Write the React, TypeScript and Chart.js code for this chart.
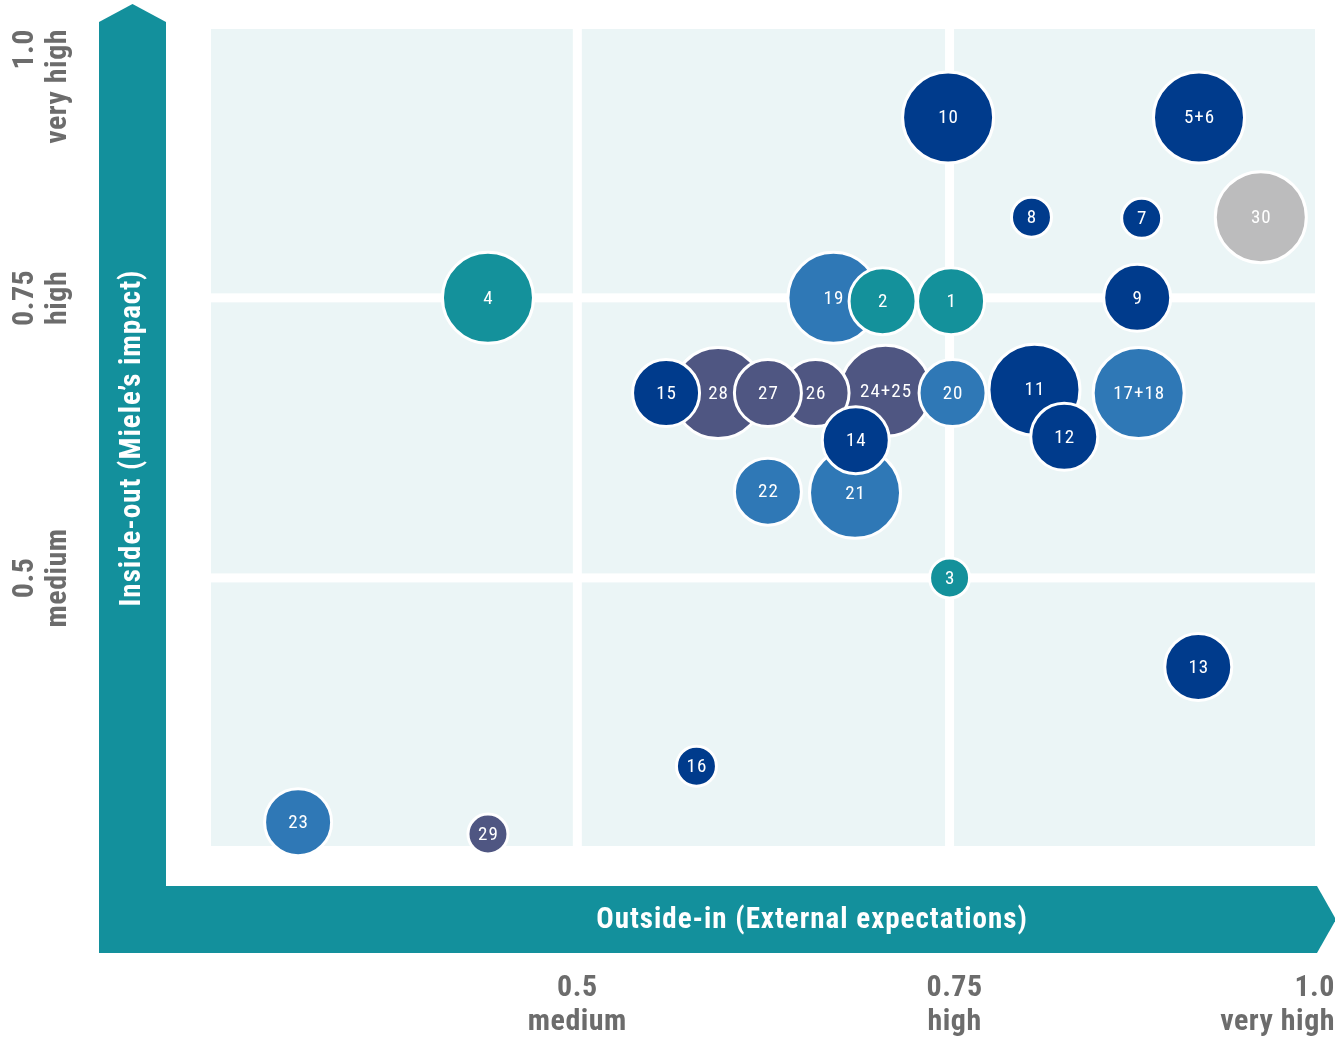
import React, { useEffect, useRef } from "react";
import { Chart, registerables } from "chart.js";

Chart.register(...registerables);

// ---- data (listed in drawing order: later items are drawn on top) ----
const bubbleLabels = ["28", "24+25", "26", "27", "15", "19", "2", "1", "21", "14", "20", "11", "12", "17+18", "4", "10", "5+6", "8", "7", "30", "9", "22", "3", "13", "16", "23", "29"];
const outsideIn = [0.5945, 0.707, 0.66, 0.628, 0.5596, 0.672, 0.705, 0.751, 0.6865, 0.687, 0.752, 0.807, 0.827, 0.877, 0.44, 0.749, 0.9175, 0.805, 0.879, 0.959, 0.876, 0.628, 0.75, 0.917, 0.58, 0.3125, 0.44];
const insideOut = [0.665, 0.667, 0.665, 0.665, 0.665, 0.75, 0.747, 0.747, 0.576, 0.623, 0.665, 0.668, 0.626, 0.665, 0.75, 0.911, 0.911, 0.822, 0.821, 0.822, 0.75, 0.577, 0.5, 0.4205, 0.332, 0.282, 0.2714];
const bubbleSize = [45.5, 45.5, 33.5, 33.5, 33.5, 45.5, 33.5, 33.5, 45.5, 33.5, 33.5, 45.5, 33.5, 45.5, 45.5, 45.5, 45.5, 20, 20, 45.5, 33.5, 33.5, 20, 33.5, 20, 33.5, 20];
const bubbleGroup = ["slate", "slate", "slate", "slate", "navy", "blue", "teal", "teal", "blue", "navy", "blue", "navy", "navy", "blue", "teal", "navy", "navy", "navy", "navy", "grey", "navy", "blue", "teal", "navy", "navy", "blue", "slate"];

const tickValues = [0.5, 0.75, 1.0];
const tickNumbers = ["0.5", "0.75", "1.0"];
const tickWords = ["medium", "high", "very high"];

const xTitle = "Outside-in (External expectations)";
const yTitle = "Inside-out (Miele\u2019s impact)";

// ---- styles ----
const palette: Record<string, string> = {
  navy: "#003b8c",
  blue: "#2f78b6",
  teal: "#14919b",
  slate: "#4f5682",
  grey: "#bcbcbd",
};
const ARROW = "#13909c";
const CELL = "#ebf5f6";
const TICK = "#6c6c6c";
const FONT = "'Roboto Condensed', 'Liberation Sans Narrow', 'DejaVu Sans Condensed', 'Arial Narrow', Roboto, sans-serif";

const decorPlugin = {
  id: "decor",
  beforeDatasetsDraw(chart: any) {
    const { ctx, chartArea: a, scales } = chart;
    const xs = scales.x;
    const ys = scales.y;
    const W = chart.width;
    ctx.save();
    // plot background cells
    ctx.fillStyle = CELL;
    ctx.fillRect(a.left, a.top, a.right - a.left, a.bottom - a.top);
    ctx.fillStyle = "#ffffff";
    [0.5, 0.75].forEach((v) => {
      const px = xs.getPixelForValue(v);
      ctx.fillRect(px - 4.5, a.top, 9, a.bottom - a.top);
      const py = ys.getPixelForValue(v);
      ctx.fillRect(a.left, py - 4.5, a.right - a.left, 9);
    });

    // arrows
    ctx.fillStyle = ARROW;
    ctx.beginPath();
    ctx.moveTo(99, 953);
    ctx.lineTo(99, 22);
    ctx.lineTo(132.5, 4);
    ctx.lineTo(166, 22);
    ctx.lineTo(166, 953);
    ctx.closePath();
    ctx.fill();
    ctx.beginPath();
    ctx.moveTo(99, 886);
    ctx.lineTo(1317, 886);
    ctx.lineTo(1336, 919.5);
    ctx.lineTo(1317, 953);
    ctx.lineTo(99, 953);
    ctx.closePath();
    ctx.fill();

    // axis titles
    ctx.fillStyle = "#ffffff";
    ctx.font = `bold 29px ${FONT}`;
    (ctx as any).letterSpacing = "1px";
    ctx.textAlign = "center";
    ctx.textBaseline = "middle";
    ctx.fillText(xTitle, 812, 921);
    ctx.save();
    ctx.translate(133, 438);
    ctx.rotate(-Math.PI / 2);
    ctx.fillText(yTitle, 0, 0);
    ctx.restore();

    // tick labels
    ctx.fillStyle = TICK;
    ctx.font = `bold 30px ${FONT}`;
    (ctx as any).letterSpacing = "0.5px";
    tickValues.forEach((v, i) => {
      // x axis
      const px = xs.getPixelForValue(v);
      const wMax = Math.max(ctx.measureText(tickNumbers[i]).width, ctx.measureText(tickWords[i]).width);
      let ax = px + (i === 1 ? 5 : 0);
      let align: CanvasTextAlign = "center";
      if (px + wMax / 2 > W - 1) {
        ax = W;
        align = "right";
      }
      ctx.textAlign = align;
      ctx.fillText(tickNumbers[i], ax, 988);
      ctx.fillText(tickWords[i], ax, 1022);

      // y axis (rotated)
      const py = ys.getPixelForValue(v);
      let ay = py;
      let yalign: CanvasTextAlign = "center";
      if (py - wMax / 2 < a.top) {
        ay = a.top;
        yalign = "right";
      }
      ctx.save();
      ctx.translate(0, ay);
      ctx.rotate(-Math.PI / 2);
      ctx.textAlign = yalign;
      ctx.fillText(tickNumbers[i], 0, 25);
      ctx.fillText(tickWords[i], 0, 58);
      ctx.restore();
    });
    ctx.restore();
  },
  afterDatasetsDraw(chart: any) {
    const { ctx } = chart;
    const meta = chart.getDatasetMeta(0);
    ctx.save();
    ctx.fillStyle = "#ffffff";
    ctx.font = `19px ${FONT}`;
    (ctx as any).letterSpacing = "1px";
    ctx.textAlign = "center";
    ctx.textBaseline = "middle";
    meta.data.forEach((el: any, i: number) => {
      ctx.fillText(bubbleLabels[i], el.x + 0.5, el.y + 1);
    });
    ctx.restore();
  },
};

export default function App() {
  const ref = useRef<HTMLCanvasElement | null>(null);
  useEffect(() => {
    document.body.style.margin = "0";
    if (!ref.current) return;
    const chart = new Chart(ref.current, {
      type: "bubble",
      data: {
        datasets: [
          {
            label: "topics",
            data: outsideIn.map((x, i) => ({ x, y: insideOut[i], r: bubbleSize[i] })),
            backgroundColor: bubbleGroup.map((g) => palette[g]),
            borderColor: "#ffffff",
            borderWidth: 3,
            hoverBorderWidth: 3,
            clip: false,
          } as any,
        ],
      },
      options: {
        animation: false,
        responsive: false,
        events: [],
        layout: { autoPadding: false, padding: { left: 211, right: 20, top: 29, bottom: 192 } } as any,
        scales: {
          x: { type: "linear", min: 0.254, max: 0.9954, display: false },
          y: { type: "linear", min: 0.2607, max: 0.99, display: false },
        },
        plugins: {
          legend: { display: false },
          tooltip: { enabled: false },
        },
      },
      plugins: [decorPlugin],
    });
    return () => chart.destroy();
  }, []);
  return (
    <div style={{ position: "absolute", left: 0, top: 0, width: 1335, height: 1038 }}>
      <canvas ref={ref} width={1335} height={1038} style={{ width: 1335, height: 1038, display: "block" }} />
    </div>
  );
}
